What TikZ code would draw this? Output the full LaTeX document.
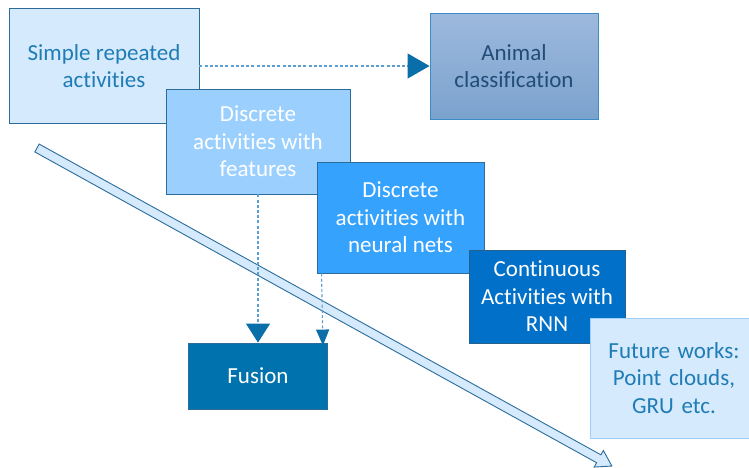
\documentclass[tikz,border=0pt]{standalone}
\usepackage{fontspec}
\setmainfont{Carlito}[Ligatures=NoCommon]
\usetikzlibrary{arrows.meta,calc}

\definecolor{paleblue}{HTML}{D5EAFC}
\definecolor{skyblue}{HTML}{9BD0FE}
\definecolor{midblue}{HTML}{35A3FE}
\definecolor{deepblue}{HTML}{0070C9}
\definecolor{fusionblue}{HTML}{0072AE}
\definecolor{edgedark}{HTML}{2B6C9B}
\definecolor{edgelight}{HTML}{9CD0F6}
\definecolor{textblue}{HTML}{1F7CB5}
\definecolor{navytext}{HTML}{214D78}
\definecolor{gradtop}{HTML}{9DB9DD}
\definecolor{gradbot}{HTML}{7BA2CE}
\definecolor{gradedge}{HTML}{3A8CC4}
\definecolor{linkblue}{HTML}{5A9FCF}
\definecolor{tipblue}{HTML}{0A6EA8}

\tikzset{
  stage/.style={rectangle, draw=edgedark, line width=0.9pt, inner sep=0pt,
    align=center, font=\fontsize{23}{27.5}\selectfont},
  link/.style={draw=linkblue, line width=1.1pt, dash pattern=on 3pt off 2.2pt},
}

\begin{document}
\begin{tikzpicture}[x=1pt,y=-1pt]
\useasboundingbox (0,0) rectangle (749,467);

% stages of the work, back to front
\node[stage, fill=paleblue, text=textblue, minimum width=190pt, minimum height=115pt]
  (simple) at (104,66) {Simple repeated\\activities};
\node[stage, draw=gradedge, top color=gradtop, bottom color=gradbot, text=navytext,
  minimum width=168pt, minimum height=106pt]
  (animal) at (514,66) {Animal\\classification};
\node[stage, fill=skyblue, text=white, minimum width=184pt, minimum height=105pt]
  (features) at (258,141.5) {Discrete\\activities with\\features};
\node[stage, fill=midblue, text=white, minimum width=167pt, minimum height=111pt]
  (neural) at (400.5,217.5) {Discrete\\activities with\\neural nets};
\node[stage, draw=edgedark!90!black, fill=deepblue, text=white, minimum width=156pt, minimum height=93pt]
  (rnn) at (547,296.5) {Continuous\\Activities with\\RNN};
\node[stage, draw=edgelight, fill=paleblue, text=textblue, minimum width=168pt, minimum height=120pt,
  text width=168pt]
  (future) at (674,378) {Future works:\\Point clouds,\\GRU etc.};
\node[stage, fill=fusionblue, text=white, minimum width=139pt, minimum height=66pt]
  (fusion) at (258,376) {Fusion};

% long hollow arrow running across the timeline
\coordinate (tailpt) at (37,148);
\begin{scope}[shift={(tailpt)}, rotate=-28.95]
  \filldraw[fill=paleblue, draw=edgedark, line width=0.9pt, line join=miter]
    (0,-4.5) -- (642,-4.5) -- (642,-9.5) -- (657,0) -- (642,9.5) -- (642,4.5) -- (0,4.5) -- cycle;
\end{scope}

% dashed links
\draw[link, -{Triangle[length=22pt,width=25pt,color=tipblue]}]
  (simple.east) -- (animal.west);
\draw[link, -{Triangle[length=19pt,width=24pt,color=tipblue]}]
  (features.south) -- (fusion.north);
\draw[link, -{Triangle[length=16pt,width=13pt,color=tipblue]}]
  ([xshift=5pt]neural.south west) -- ([xshift=-5pt,yshift=-3pt]fusion.north east);
\end{tikzpicture}
\end{document}
